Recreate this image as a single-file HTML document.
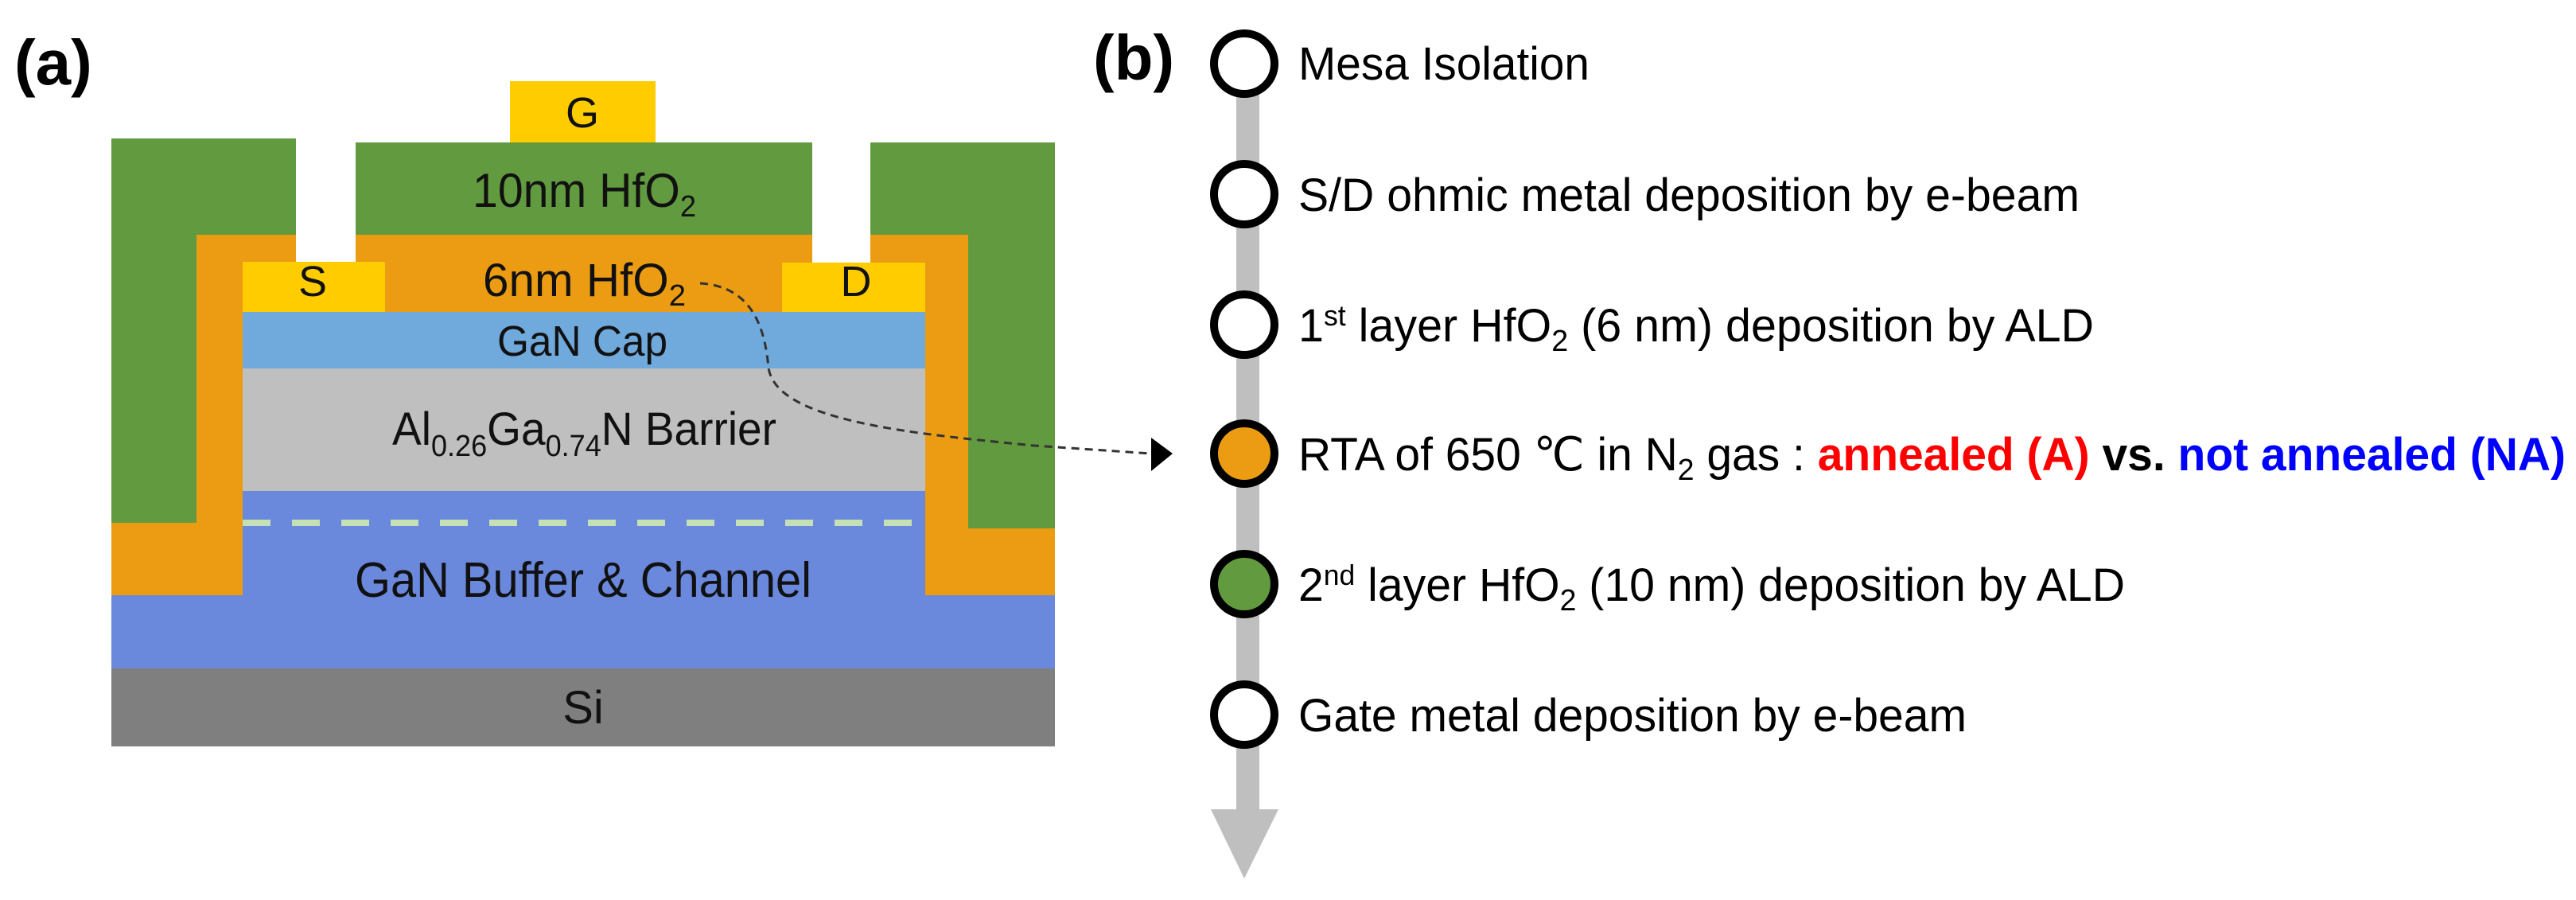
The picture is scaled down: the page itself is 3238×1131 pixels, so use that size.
<!DOCTYPE html>
<html><head><meta charset="utf-8"><style>html,body{margin:0;padding:0;background:#fff;width:3238px;height:1131px;overflow:hidden}</style></head>
<body>
<svg width="3238" height="1131" viewBox="0 0 3238 1131" xmlns="http://www.w3.org/2000/svg">
<!-- Panel a -->
<g fill="#EC9C13">
<rect x="140" y="657" width="165" height="91"/>
<rect x="247" y="295" width="58" height="453"/>
<rect x="247" y="295" width="970" height="97"/>
<rect x="1163" y="295" width="54" height="453"/>
<rect x="1163" y="664" width="163" height="84"/>
</g>
<g fill="#629A3F">
<rect x="140" y="174" width="232" height="121"/>
<rect x="140" y="174" width="107" height="483"/>
<rect x="447" y="179" width="574" height="116"/>
<rect x="1094" y="179" width="232" height="116"/>
<rect x="1217" y="179" width="109" height="485"/>
</g>
<rect x="372" y="174" width="75" height="155" fill="#fff"/>
<rect x="1021" y="179" width="73" height="151" fill="#fff"/>
<rect x="305" y="329" width="179" height="63" fill="#FFCC00"/>
<rect x="983" y="330" width="180" height="62" fill="#FFCC00"/>
<rect x="641" y="102" width="183" height="77" fill="#FFCC00"/>
<rect x="305" y="392" width="858" height="71" fill="#70A9DB"/>
<rect x="305" y="463" width="858" height="154" fill="#BFBFBF"/>
<rect x="305" y="617" width="858" height="131" fill="#6A88DC"/>
<rect x="140" y="748" width="1186" height="92" fill="#6A88DC"/>
<rect x="140" y="840" width="1186" height="98" fill="#7F7F7F"/>
<line x1="305" y1="657" x2="1155" y2="657" stroke="#C5E0B4" stroke-width="8" stroke-dasharray="35 27"/>
<g font-family="Liberation Sans, sans-serif" fill="#111" font-size="56">
<text x="18" y="106" font-size="80" font-weight="bold" fill="#000">(a)</text>
<text x="732" y="160" text-anchor="middle" font-size="54">G</text>
<text x="594" y="260" textLength="281" lengthAdjust="spacingAndGlyphs" font-size="60">10nm HfO<tspan font-size="38" dy="12">2</tspan></text>
<text x="607" y="372" textLength="255" lengthAdjust="spacingAndGlyphs" font-size="58">6nm HfO<tspan font-size="38" dy="12">2</tspan></text>
<text x="393" y="372" text-anchor="middle" font-size="54">S</text>
<text x="1076" y="372" text-anchor="middle" font-size="54">D</text>
<text x="625" y="447" textLength="214" lengthAdjust="spacingAndGlyphs" font-size="54">GaN Cap</text>
<text x="493" y="559" textLength="483" lengthAdjust="spacingAndGlyphs" font-size="58">Al<tspan font-size="38" dy="14">0.26</tspan><tspan dy="-14">Ga</tspan><tspan font-size="38" dy="14">0.74</tspan><tspan dy="-14">N Barrier</tspan></text>
<text x="446" y="750" textLength="574" lengthAdjust="spacingAndGlyphs" font-size="62">GaN Buffer &amp; Channel</text>
<text x="733" y="909" text-anchor="middle" font-size="58">Si</text>
</g>
<path d="M 880 356 C 950 360, 962 420, 966 462 C 975 530, 1150 545, 1300 560 L 1447 570" fill="none" stroke="#333" stroke-width="3" stroke-dasharray="10 7"/>
<polygon points="1447,550 1474,570 1447,592" fill="#000"/>
<!-- Panel b -->
<text x="1374" y="100" font-family="Liberation Sans, sans-serif" font-size="80" font-weight="bold">(b)</text>
<rect x="1554" y="80" width="29" height="940" fill="#BFBFBF"/>
<polygon points="1522,1017 1607,1017 1564,1104" fill="#BFBFBF"/>
<g stroke="#000" stroke-width="10">
<ellipse cx="1564" cy="80" rx="38" ry="38" fill="#fff"/>
<ellipse cx="1564" cy="244" rx="38" ry="38" fill="#fff"/>
<ellipse cx="1564" cy="408" rx="38" ry="38" fill="#fff"/>
<ellipse cx="1564" cy="570" rx="38" ry="38" fill="#EC9C13"/>
<ellipse cx="1564" cy="734" rx="38" ry="38" fill="#629A3F"/>
<ellipse cx="1564" cy="898" rx="38" ry="38" fill="#fff"/>
</g>
<g font-family="Liberation Sans, sans-serif" font-size="58" fill="#000">
<text x="1632" y="100" textLength="366" lengthAdjust="spacingAndGlyphs">Mesa Isolation</text>
<text x="1632" y="265" textLength="982" lengthAdjust="spacingAndGlyphs">S/D ohmic metal deposition by e-beam</text>
<text x="1632" y="429" textLength="1000" lengthAdjust="spacingAndGlyphs">1<tspan font-size="36" dy="-20">st</tspan><tspan dy="20"> layer HfO</tspan><tspan font-size="38" dy="12">2</tspan><tspan dy="-12"> (6 nm) deposition by ALD</tspan></text>
<text x="1632" y="591" textLength="1593" lengthAdjust="spacingAndGlyphs">RTA of 650 ℃ in N<tspan font-size="38" dy="12">2</tspan><tspan dy="-12"> gas : </tspan><tspan font-weight="bold" fill="#FF0000">annealed (A)</tspan><tspan font-weight="bold"> vs. </tspan><tspan font-weight="bold" fill="#0000FF">not annealed (NA)</tspan></text>
<text x="1632" y="755" textLength="1039" lengthAdjust="spacingAndGlyphs">2<tspan font-size="36" dy="-20">nd</tspan><tspan dy="20"> layer HfO</tspan><tspan font-size="38" dy="12">2</tspan><tspan dy="-12"> (10 nm) deposition by ALD</tspan></text>
<text x="1632" y="919" textLength="840" lengthAdjust="spacingAndGlyphs">Gate metal deposition by e-beam</text>
</g>
</svg>
</body></html>
